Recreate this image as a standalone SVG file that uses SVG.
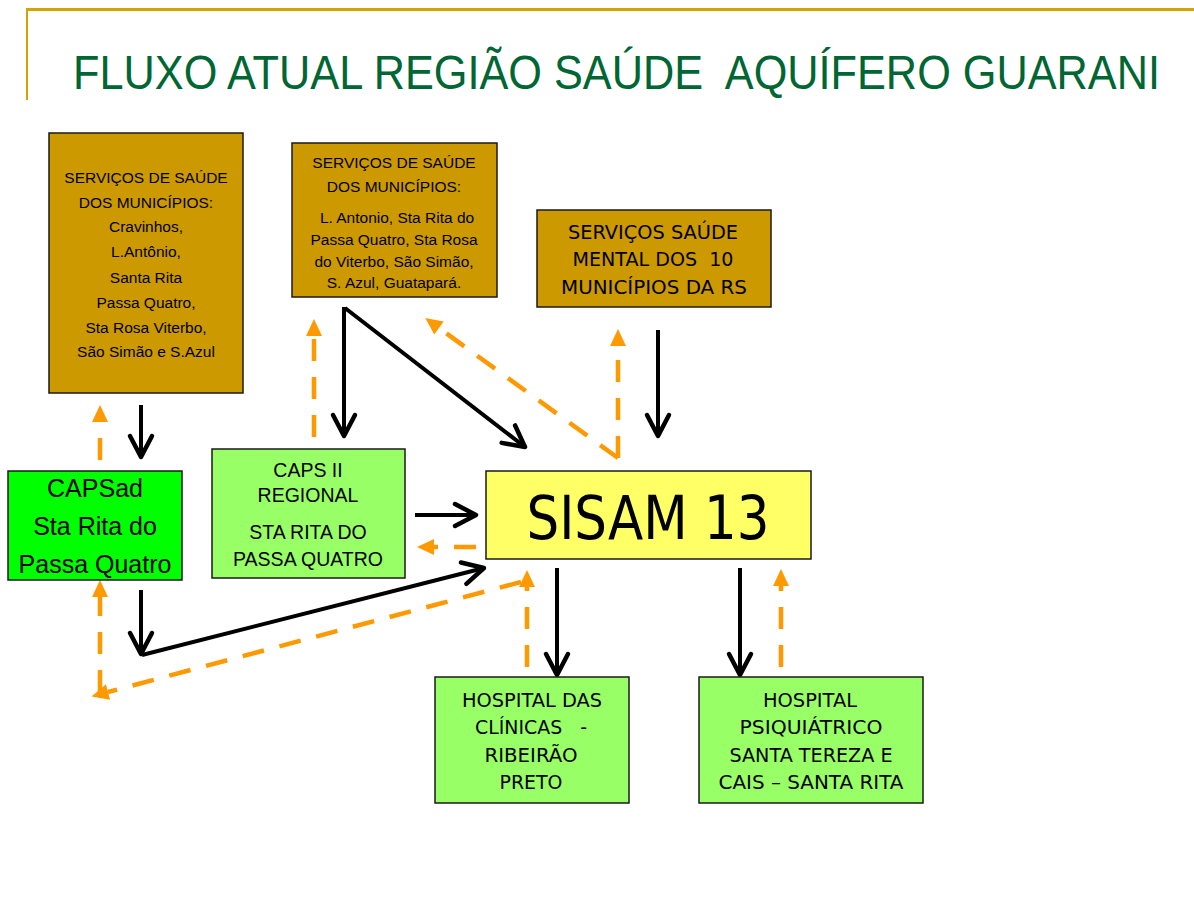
<svg xmlns="http://www.w3.org/2000/svg" width="1194" height="902" viewBox="0 0 1194 902">
<style>
text{white-space:pre}
.box{stroke:#1a1a1a;stroke-width:1.5}
.gold{fill:#CC9900}
.lg{fill:#99FF66}
.arial{font-family:"Liberation Sans",Arial,sans-serif;fill:#000;text-anchor:middle}
.tah{font-family:"DejaVu Sans",Tahoma,sans-serif;fill:#000;text-anchor:middle}
.blk{stroke:#000;stroke-width:4;fill:none;marker-end:url(#chev)}
.org{stroke:#FF9900;stroke-width:4.5;fill:none;stroke-dasharray:22 16;marker-end:url(#tri)}
</style>
<defs>
<marker id="chev" markerUnits="userSpaceOnUse" viewBox="-30 -16 36 32" markerWidth="36" markerHeight="32" refX="0" refY="0" orient="auto">
<path d="M-21,-11 L0,0 L-21,11" fill="none" stroke="#000" stroke-width="4.5" stroke-linecap="round" stroke-linejoin="round"/>
</marker>
<marker id="tri" markerUnits="userSpaceOnUse" viewBox="-2 -10 22 20" markerWidth="22" markerHeight="20" refX="0" refY="0" orient="auto">
<path d="M0,-8 L17,0 L0,8 Z" fill="#FF9900"/>
</marker>
</defs>
<rect width="1194" height="902" fill="#fff"/>
<g id="frame">
<line x1="26" y1="9.5" x2="1194" y2="9.5" stroke="#D4A300" stroke-width="3"/>
<line x1="27" y1="9" x2="27" y2="100" stroke="#D4A300" stroke-width="2"/>
</g>
<g id="title">
<text x="73" y="89" font-family="'Liberation Sans',Arial,sans-serif" font-size="48" fill="#006633" textLength="1087" lengthAdjust="spacingAndGlyphs">FLUXO ATUAL REGIÃO SAÚDE  AQUÍFERO GUARANI</text>
</g>
<g id="connectors">
<line class="blk" x1="141" y1="405" x2="141" y2="457"/>
<line class="blk" x1="344" y1="307" x2="344" y2="436"/>
<line class="blk" x1="345" y1="308" x2="525" y2="447"/>
<line class="blk" x1="658" y1="330" x2="658" y2="436"/>
<line class="blk" x1="415" y1="515" x2="476" y2="515"/>
<line class="blk" x1="141" y1="590" x2="141" y2="654"/>
<line class="blk" x1="142" y1="655" x2="484" y2="568"/>
<line class="blk" x1="557" y1="568" x2="557" y2="675"/>
<line class="blk" x1="740" y1="568" x2="740" y2="675"/>
<line class="org" x1="100" y1="460" x2="100" y2="422"/>
<line class="org" x1="100" y1="692" x2="100" y2="597"/>
<line class="org" x1="521" y1="582" x2="108" y2="692"/>
<line class="org" x1="527" y1="667" x2="527" y2="587"/>
<line class="org" x1="781" y1="667" x2="781" y2="586"/>
<line class="org" x1="476" y1="547" x2="434" y2="547"/>
<line class="org" x1="314" y1="437" x2="314" y2="336"/>
<line class="org" x1="618" y1="458" x2="618" y2="346"/>
<line class="org" x1="618" y1="458" x2="439" y2="328"/>
</g>
<g id="servicos1">
<rect class="box gold" x="49" y="133" width="194" height="260"/>
<text class="arial" font-size="15.5"><tspan x="146" y="183">SERVIÇOS DE SAÚDE</tspan><tspan x="146" y="208">DOS MUNICÍPIOS:</tspan><tspan x="146" y="232">Cravinhos,</tspan><tspan x="146" y="257">L.Antônio,</tspan><tspan x="146" y="283">Santa Rita</tspan><tspan x="146" y="308">Passa Quatro,</tspan><tspan x="146" y="333">Sta Rosa Viterbo,</tspan><tspan x="146" y="357">São Simão e S.Azul</tspan></text>
</g>
<g id="servicos2">
<rect class="box gold" x="292" y="143" width="205" height="154"/>
<text class="arial" font-size="15.5"><tspan x="394" y="168">SERVIÇOS DE SAÚDE</tspan><tspan x="394" y="192">DOS MUNICÍPIOS:</tspan><tspan x="397" y="223">L. Antonio, Sta Rita do</tspan><tspan x="394" y="245">Passa Quatro, Sta Rosa</tspan><tspan x="394" y="267">do Viterbo, São Simão,</tspan><tspan x="394" y="288">S. Azul, Guatapará.</tspan></text>
</g>
<g id="servicos3">
<rect class="box gold" x="537" y="210" width="234" height="97"/>
<text class="tah" font-size="20"><tspan x="653" y="239" textLength="170" lengthAdjust="spacingAndGlyphs">SERVIÇOS SAÚDE</tspan></text>
<text class="tah" font-size="20"><tspan x="653" y="266" textLength="161" lengthAdjust="spacingAndGlyphs">MENTAL DOS  10</tspan></text>
<text class="tah" font-size="20"><tspan x="654" y="294" textLength="186" lengthAdjust="spacingAndGlyphs">MUNICÍPIOS DA RS</tspan></text>
</g>
<g id="capsad">
<rect class="box" fill="#00FF00" x="8" y="471" width="174" height="109"/>
<text class="arial" font-size="25"><tspan x="95" y="497">CAPSad</tspan><tspan x="95" y="535">Sta Rita do</tspan><tspan x="95" y="573">Passa Quatro</tspan></text>
</g>
<g id="capsii">
<rect class="box lg" x="212" y="449" width="193" height="129"/>
<text class="arial" font-size="19.5"><tspan x="308" y="477">CAPS II</tspan><tspan x="308" y="502">REGIONAL</tspan><tspan x="308" y="539">STA RITA DO</tspan><tspan x="308" y="566">PASSA QUATRO</tspan></text>
</g>
<g id="sisam">
<rect class="box" fill="#FFFF66" x="486" y="471" width="325" height="88"/>
<text class="tah" font-size="60" x="648" y="539" textLength="243" lengthAdjust="spacingAndGlyphs">SISAM 13</text>
</g>
<g id="hc">
<rect class="box lg" x="435" y="677" width="194" height="126"/>
<text class="tah" font-size="20" x="532" y="707" textLength="140" lengthAdjust="spacingAndGlyphs">HOSPITAL DAS</text>
<text class="tah" font-size="20" x="531" y="734" textLength="112" lengthAdjust="spacingAndGlyphs">CLÍNICAS   -</text>
<text class="tah" font-size="20" x="531" y="762" textLength="93" lengthAdjust="spacingAndGlyphs">RIBEIRÃO</text>
<text class="tah" font-size="20" x="531" y="789" textLength="63" lengthAdjust="spacingAndGlyphs">PRETO</text>
</g>
<g id="hp">
<rect class="box lg" x="699" y="677" width="224" height="126"/>
<text class="tah" font-size="20" x="810" y="707" textLength="94" lengthAdjust="spacingAndGlyphs">HOSPITAL</text>
<text class="tah" font-size="20" x="811" y="734" textLength="143" lengthAdjust="spacingAndGlyphs">PSIQUIÁTRICO</text>
<text class="tah" font-size="20" x="811" y="762" textLength="163" lengthAdjust="spacingAndGlyphs">SANTA TEREZA E</text>
<text class="tah" font-size="20" x="811" y="789" textLength="185" lengthAdjust="spacingAndGlyphs">CAIS – SANTA RITA</text>
</g>
</svg>
